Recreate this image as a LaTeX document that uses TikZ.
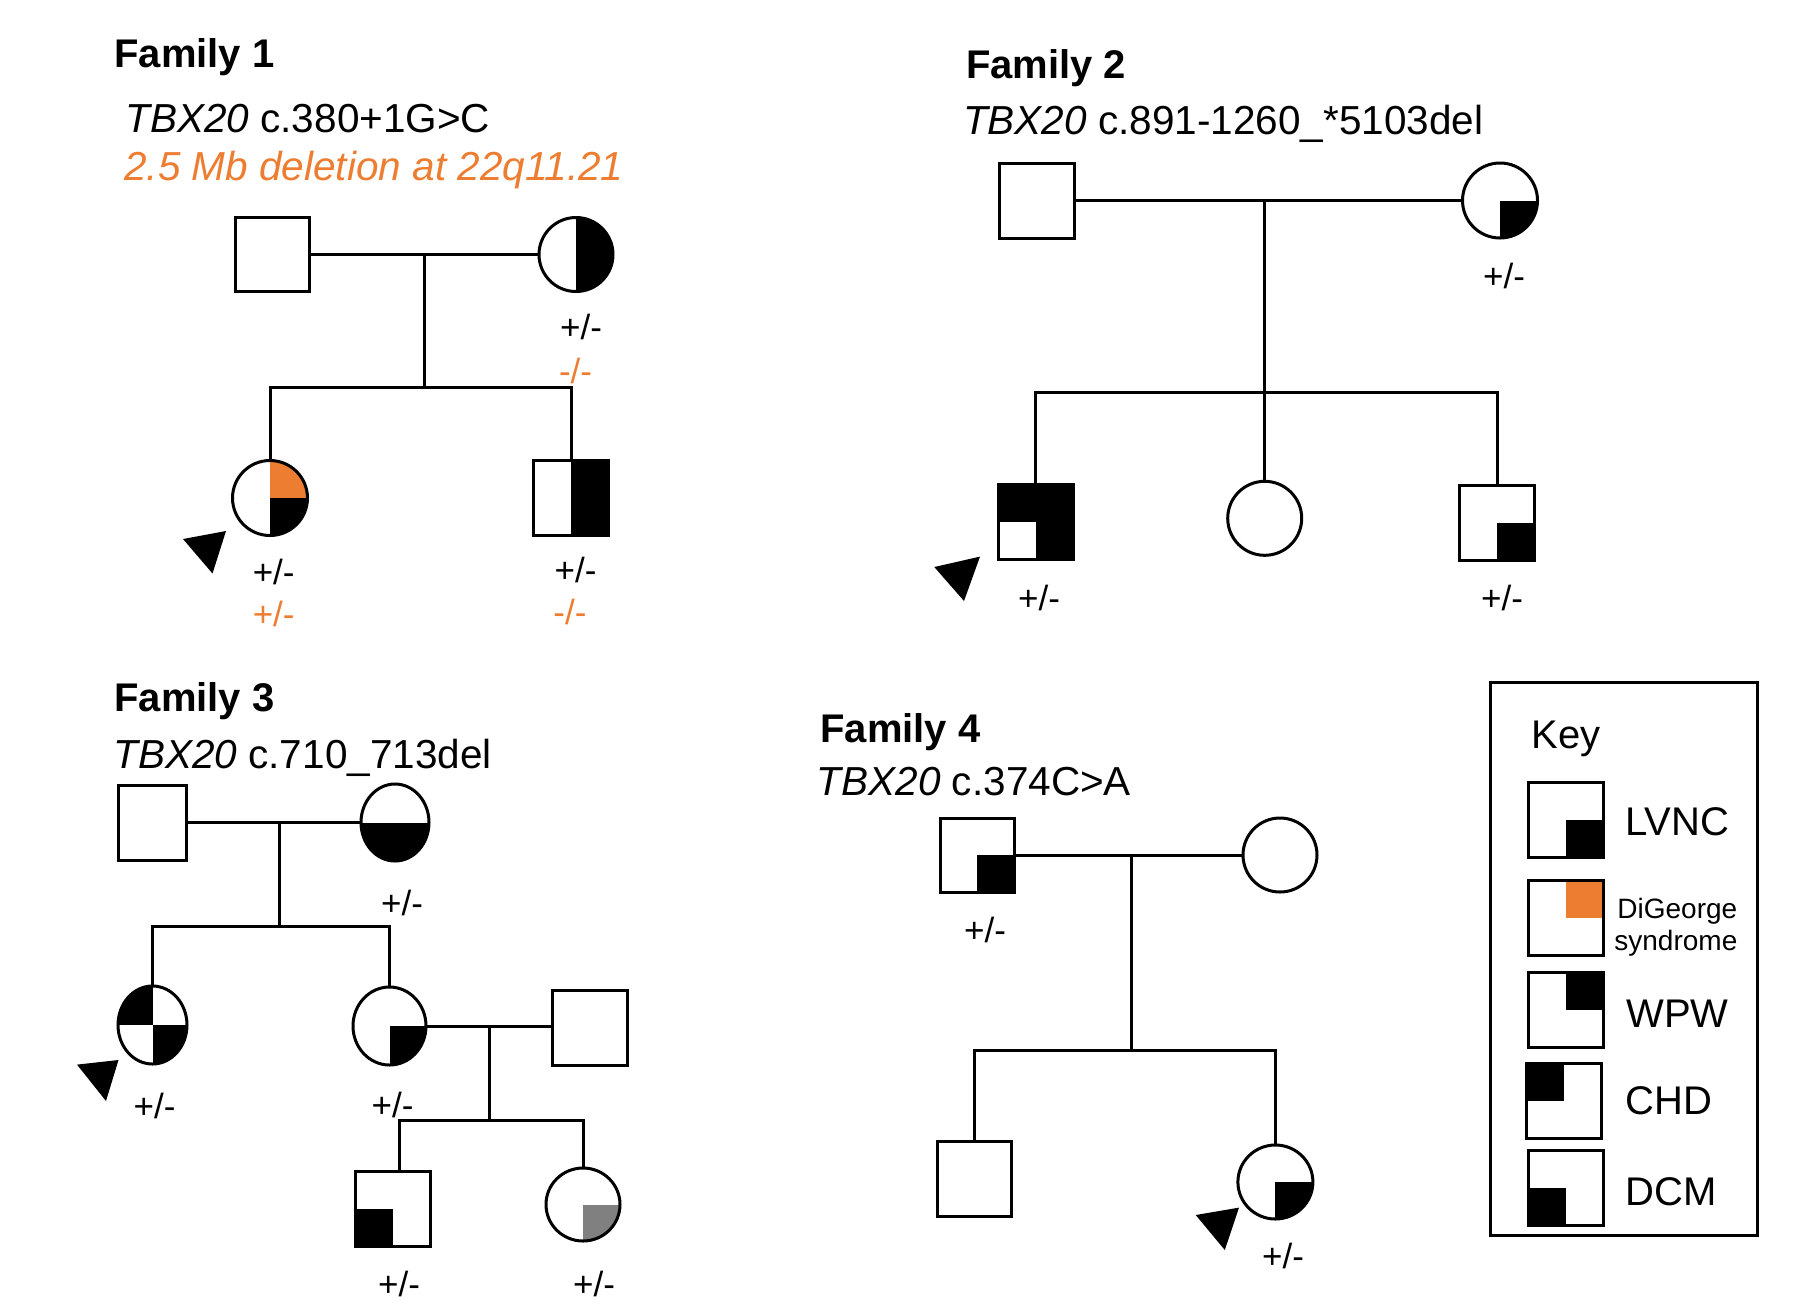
\documentclass[tikz,border=0pt]{standalone}
\usepackage{fontspec}
\setmainfont{Liberation Sans}
\usetikzlibrary{shapes.geometric}
\definecolor{dgorange}{RGB}{237,125,49}
\definecolor{lvgray}{RGB}{128,128,128}
\begin{document}
\begin{tikzpicture}[x=0.5pt,y=-0.5pt,
  lw/.style={line width=1.5pt},
  indiv/.style={draw, line width=1.5pt, inner sep=0pt, outer sep=0pt},
  sq/.style={indiv, rectangle, minimum width=#1, minimum height=#1},
  fem/.style={indiv, ellipse, minimum width=#1, minimum height=#1},
  fills/.style={path picture={\foreach \c/\a in {#1}{\fill[\c] (path picture bounding box.center) rectangle (path picture bounding box.\a);}}},
  ttl/.style={anchor=base west, inner sep=0pt, font=\fontsize{20}{24}\selectfont\bfseries},
  mut/.style={anchor=base west, inner sep=0pt, font=\fontsize{20.25}{24}\selectfont},
  gt/.style={inner sep=0pt, font=\fontsize{17.5}{20}\selectfont},
  gto/.style={gt, text=dgorange},
  keylab/.style={anchor=west, inner sep=0pt, font=\fontsize{20}{24}\selectfont},
  keysm/.style={anchor=base west, inner sep=0pt, font=\fontsize{14}{17}\selectfont}
]
\useasboundingbox (0,0) rectangle (1794,1314);
\fill[white] (0,0) rectangle (1794,1314);

% ---------------- Family 1 ----------------
\node[ttl] (f1t) at (114,67.5) {Family 1};
\node[mut] (f1g) at (125,132) {\textit{TBX20} c.380+1G>C};
\node[mut, text=dgorange] (f1d) at (124,180.5) {\textit{2.5 Mb deletion at 22q11.21}};
\node[sq=37pt] (f1f) at (272,254.5) {};
\node[fem=37pt, fills={black/north east,black/south east}] (f1m) at (576,254.5) {};
\node[fem=37.5pt, fills={dgorange/north east,black/south east}] (f1c1) at (270,498) {};
\node[sq=37.5pt, fills={black/north east,black/south east}] (f1c2) at (571,497.5) {};
\coordinate (f1mm) at (424,254.5);
\coordinate (f1sb) at (424,387);
\draw[lw] (f1f) -- (f1m);
\draw[lw] (f1mm) -- (f1sb);
\draw[lw] (f1c1.north) |- (f1sb) -| (f1c2.north);
\fill (183,539) -- (226,531) -- (212.5,573.5) -- cycle;
\node[gt] (f1mg) at (581,327) {+/-};
\node[gto] (f1md) at (575.6,371) {-/-};
\node[gt] (f1c1g) at (273.7,572) {+/-};
\node[gto] (f1c1d) at (273.7,613.6) {+/-};
\node[gt] (f1c2g) at (575.6,570) {+/-};
\node[gto] (f1c2d) at (570,612) {-/-};

% ---------------- Family 2 ----------------
\node[ttl] (f2t) at (965.7,78.9) {Family 2};
\node[mut] (f2g) at (962.8,134) {\textit{TBX20} c.891-1260\_*5103del};
\node[sq=37.5pt] (f2f) at (1037,200.5) {};
\node[fem=37.5pt, fills={black/south east}] (f2m) at (1500,200.5) {};
\node[sq=37.5pt, fills={black/north west,black/north east,black/south east}] (f2c1) at (1035.5,522) {};
\node[fem=37pt] (f2c2) at (1264.7,518.3) {};
\node[sq=37.5pt, fills={black/south east}] (f2c3) at (1497,523) {};
\coordinate (f2mm) at (1264.7,200.5);
\coordinate (f2sb) at (1264.7,392);
\draw[lw] (f2f) -- (f2m);
\draw[lw] (f2mm) -- (f2c2.north);
\draw[lw] (f2c1.north) |- (f2sb) -| (f2c3.north);
\fill (934.3,567) -- (980,556.6) -- (964,601) -- cycle;
\node[gt] (f2mg) at (1504,276) {+/-};
\node[gt] (f2c1g) at (1039,598) {+/-};
\node[gt] (f2c3g) at (1502,598) {+/-};

% ---------------- Family 3 ----------------
\node[ttl] (f3t) at (114,711) {Family 3};
\node[mut] (f3g) at (113,768) {\textit{TBX20} c.710\_713del};
\node[sq=37.5pt, minimum width=34pt] (f3f) at (152,822.5) {};
\node[fem=38.5pt, minimum width=34pt, fills={black/south west,black/south east}] (f3m) at (395,822.5) {};
\node[fem=39pt, minimum width=34.5pt, fills={black/north west,black/south east}] (f3c1) at (152.5,1025) {};
\node[fem=39pt, minimum width=36.5pt, fills={black/south east}] (f3c2) at (389.5,1026) {};
\node[sq=37.5pt] (f3sp) at (589.5,1027.5) {};
\node[sq=37.5pt, fills={black/south west}] (f3g1) at (392.8,1208.5) {};
\node[fem=36.5pt, minimum width=37pt, fills={lvgray/south east}] (f3g2) at (583,1204.5) {};
\coordinate (f3mm) at (279.4,822.5);
\coordinate (f3sb) at (279.4,926.7);
\draw[lw] (f3f) -- (f3m);
\draw[lw] (f3mm) -- (f3sb);
\draw[lw] (f3c1.north) |- (f3sb) -| (f3c2.north);
\coordinate (f3mm2) at (489.5,1026);
\coordinate (f3sb2) at (489.5,1120.6);
\coordinate (f3g1top) at (399,1170);
\draw[lw] (f3c2.east) -- (f3c2.east -| f3sp.west);
\draw[lw] (f3mm2) -- (f3sb2);
\draw[lw] (f3g1top) |- (f3sb2) -| (f3g2.north);
\fill (77,1064.6) -- (118.5,1060) -- (106,1101) -- cycle;
\node[gt] (f3mg) at (402,903) {+/-};
\node[gt] (f3c1g) at (154.5,1106) {+/-};
\node[gt] (f3c2g) at (392.5,1105) {+/-};
\node[gt] (f3g1g) at (399,1284) {+/-};
\node[gt] (f3g2g) at (594,1284) {+/-};

% ---------------- Family 4 ----------------
\node[ttl] (f4t) at (820,742.5) {Family 4};
\node[mut] (f4g) at (816.5,795) {\textit{TBX20} c.374C>A};
\node[sq=37pt, fills={black/south east}] (f4f) at (977,855) {};
\node[fem=37pt] (f4m) at (1280,855) {};
\node[sq=37.5pt, minimum width=37pt] (f4c1) at (974.5,1179) {};
\node[fem=37pt, minimum width=37.5pt, fills={black/south east}] (f4c2) at (1275.4,1182) {};
\coordinate (f4mm) at (1131.8,855);
\coordinate (f4sb) at (1131.8,1050);
\draw[lw] (f4f) -- (f4m);
\draw[lw] (f4mm) -- (f4sb);
\draw[lw] (f4c1.north) |- (f4sb) -| (f4c2.north);
\fill (1195.7,1215) -- (1239,1207.6) -- (1224.8,1250) -- cycle;
\node[gt] (f4fg) at (985,929.5) {+/-};
\node[gt] (f4c2g) at (1283,1256) {+/-};

% ---------------- Key ----------------
\draw[lw] (1490,682) rectangle (1757,1235);
\node[anchor=base west, inner sep=0pt, font=\fontsize{20}{24}\selectfont] (keyt) at (1531,748) {Key};
\node[sq=37.5pt, fills={black/south east}] (k1) at (1566,820) {};
\node[sq=37.5pt, fills={dgorange/north east}] (k2) at (1566,917.5) {};
\node[sq=37.5pt, fills={black/north east}] (k3) at (1566,1010) {};
\node[sq=37.5pt, fills={black/north west}] (k4) at (1564,1100.5) {};
\node[sq=37.5pt, fills={black/south west}] (k5) at (1566,1188) {};
\node[keylab] (k1l) at (1625,822) {LVNC};
\node[keysm] (k2a) at (1617,918) {DiGeorge};
\node[keysm] (k2b) at (1614,950) {syndrome};
\node[keylab] (k3l) at (1626,1014) {WPW};
\node[keylab] (k4l) at (1625,1101) {CHD};
\node[keylab] (k5l) at (1625,1192) {DCM};
\end{tikzpicture}
\end{document}
